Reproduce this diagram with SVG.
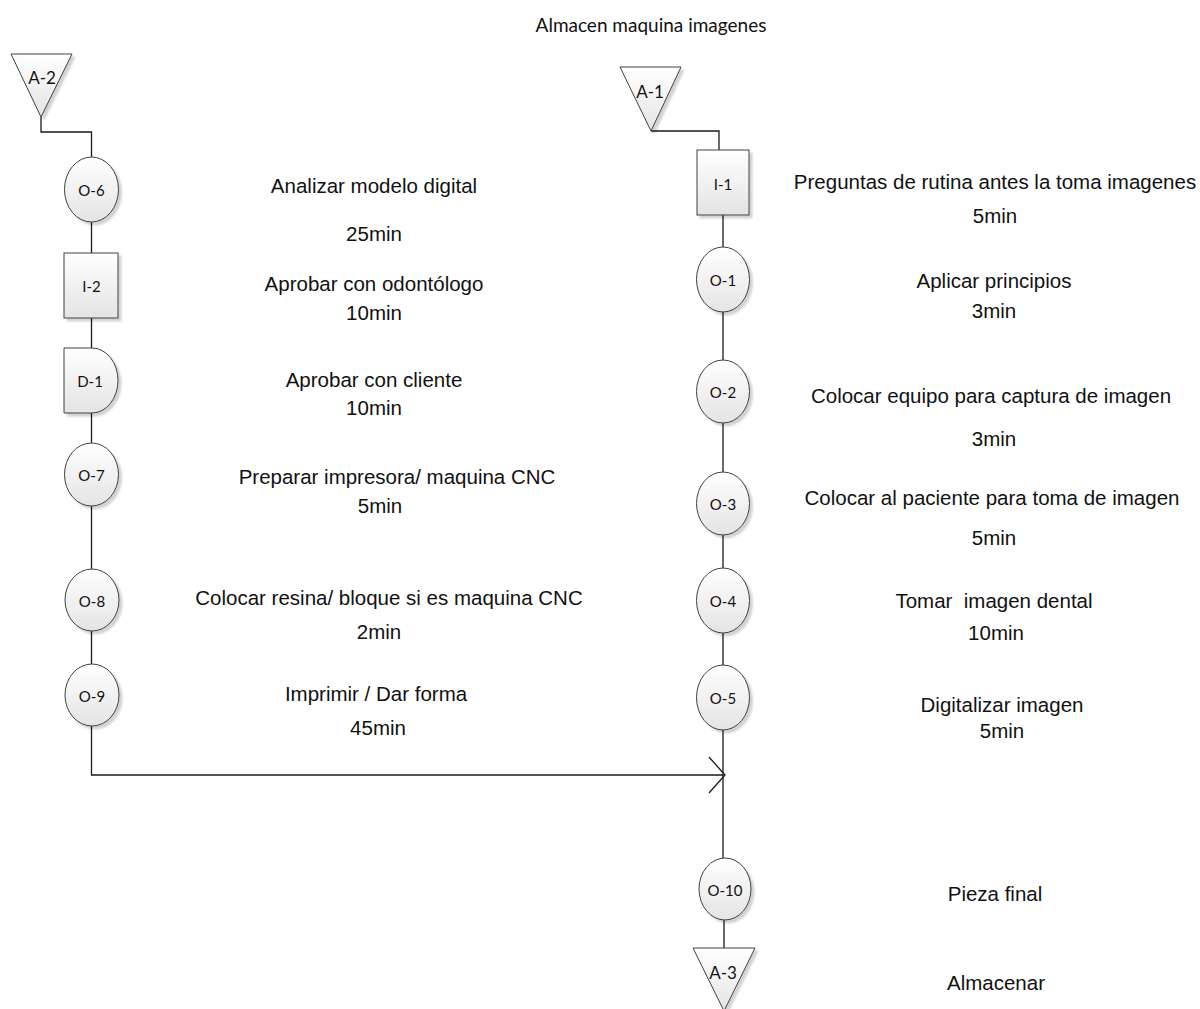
<svg xmlns="http://www.w3.org/2000/svg" width="1200" height="1009" viewBox="0 0 1200 1009">
  <style>
    .shape { fill: url(#fillGrad); stroke: #404040; stroke-width: 1; filter: url(#shadow); }
    .tag { font-family: Lato, "Open Sans", sans-serif; font-size: 15px; fill: #111; text-anchor: middle; dominant-baseline: central; }
    .tag-big { font-size: 17px; }
    .desc { font-family: "Liberation Sans", Arial, sans-serif; font-size: 20.5px; fill: #111; text-anchor: middle; }
    .title { font-family: Lato, "Open Sans", sans-serif; font-size: 19px; fill: #111; text-anchor: middle; }
    .wire { fill: none; stroke: #1a1a1a; stroke-width: 1.3; }
  </style>
  <defs>
    <linearGradient id="fillGrad" x1="0" y1="0" x2="0" y2="1">
      <stop offset="0" stop-color="#ffffff"/>
      <stop offset="1" stop-color="#e4e4e4"/>
    </linearGradient>
    <filter id="shadow" x="-20%" y="-20%" width="150%" height="150%">
      <feGaussianBlur in="SourceAlpha" stdDeviation="1.2"/>
      <feOffset dx="2.5" dy="2.5" result="off"/>
      <feComponentTransfer><feFuncA type="linear" slope="0.18"/></feComponentTransfer>
      <feMerge><feMergeNode/><feMergeNode in="SourceGraphic"/></feMerge>
    </filter>
  </defs>

  <rect width="1200" height="1009" fill="#ffffff"/>

  <text class="title" x="651" y="32">Almacen maquina imagenes</text>

  <!-- connectors -->
  <g id="connectors">
    <polyline class="wire" points="41,117 41,132 91.5,132 91.5,157"/>
    <line class="wire" x1="91.5" y1="222" x2="91.5" y2="253"/>
    <line class="wire" x1="91.5" y1="318" x2="91.5" y2="348"/>
    <line class="wire" x1="91.5" y1="413" x2="91.5" y2="443"/>
    <line class="wire" x1="91.5" y1="506" x2="91.5" y2="569"/>
    <line class="wire" x1="91.5" y1="631" x2="91.5" y2="664"/>
    <polyline class="wire" points="91.5,726 91.5,775 723,775"/>
    <polyline class="wire" points="709,757 725,775 709,793"/>

    <polyline class="wire" points="651,131 719,131 719,150"/>
    <line class="wire" x1="723" y1="215" x2="723" y2="247"/>
    <line class="wire" x1="723" y1="312" x2="723" y2="360"/>
    <line class="wire" x1="723" y1="423" x2="723" y2="472"/>
    <line class="wire" x1="723" y1="535" x2="723" y2="568"/>
    <line class="wire" x1="723" y1="633" x2="723" y2="665"/>
    <line class="wire" x1="723" y1="730" x2="723" y2="858"/>
    <line class="wire" x1="724" y1="920" x2="724" y2="948"/>
  </g>

  <!-- left column -->
  <g id="A-2">
    <polygon class="shape" points="11,54 72,54 41,117"/>
    <text class="tag tag-big" x="42" y="77">A-2</text>
  </g>
  <g id="O-6">
    <ellipse class="shape" cx="91.5" cy="189.5" rx="27" ry="32.5"/>
    <text class="tag" x="91.5" y="190">O-6</text>
  </g>
  <g id="I-2">
    <rect class="shape" x="64" y="253" width="54" height="65"/>
    <text class="tag" x="91.5" y="286">I-2</text>
  </g>
  <g id="D-1">
    <path class="shape" d="M64,348 L92,348 A26,32.5 0 0 1 92,413 L64,413 Z"/>
    <text class="tag" x="90" y="381">D-1</text>
  </g>
  <g id="O-7">
    <ellipse class="shape" cx="91.5" cy="474.5" rx="27" ry="31.5"/>
    <text class="tag" x="91.5" y="475">O-7</text>
  </g>
  <g id="O-8">
    <ellipse class="shape" cx="92" cy="600" rx="27" ry="31"/>
    <text class="tag" x="92" y="601">O-8</text>
  </g>
  <g id="O-9">
    <ellipse class="shape" cx="92" cy="695" rx="27" ry="31"/>
    <text class="tag" x="92" y="696">O-9</text>
  </g>

  <!-- right column -->
  <g id="A-1">
    <polygon class="shape" points="620,67 681,67 651,131"/>
    <text class="tag tag-big" x="650" y="91">A-1</text>
  </g>
  <g id="I-1">
    <rect class="shape" x="697" y="150" width="52" height="65"/>
    <text class="tag" x="723" y="184">I-1</text>
  </g>
  <g id="O-1">
    <ellipse class="shape" cx="723" cy="279.5" rx="26.5" ry="32.5"/>
    <text class="tag" x="723" y="280">O-1</text>
  </g>
  <g id="O-2">
    <ellipse class="shape" cx="723" cy="391.5" rx="26.5" ry="31.5"/>
    <text class="tag" x="723" y="392">O-2</text>
  </g>
  <g id="O-3">
    <ellipse class="shape" cx="723" cy="503.5" rx="26.5" ry="31.5"/>
    <text class="tag" x="723" y="504">O-3</text>
  </g>
  <g id="O-4">
    <ellipse class="shape" cx="723" cy="600.5" rx="26.5" ry="32.5"/>
    <text class="tag" x="723" y="601">O-4</text>
  </g>
  <g id="O-5">
    <ellipse class="shape" cx="723" cy="697.5" rx="26.5" ry="32.5"/>
    <text class="tag" x="723" y="698">O-5</text>
  </g>
  <g id="O-10">
    <ellipse class="shape" cx="725" cy="889" rx="26" ry="31"/>
    <text class="tag" x="725" y="890">O-10</text>
  </g>
  <g id="A-3">
    <polygon class="shape" points="693,948 755,948 724,1011"/>
    <text class="tag tag-big" x="723" y="972">A-3</text>
  </g>

  <!-- descriptions, left column -->
  <g id="labels-left">
    <text class="desc" x="374" y="193">Analizar modelo digital</text>
    <text class="desc" x="374" y="241">25min</text>
    <text class="desc" x="374" y="291">Aprobar con odontólogo</text>
    <text class="desc" x="374" y="320">10min</text>
    <text class="desc" x="374" y="387">Aprobar con cliente</text>
    <text class="desc" x="374" y="415">10min</text>
    <text class="desc" x="397" y="484">Preparar impresora/ maquina CNC</text>
    <text class="desc" x="380" y="513">5min</text>
    <text class="desc" x="389" y="605">Colocar resina/ bloque si es maquina CNC</text>
    <text class="desc" x="379" y="639">2min</text>
    <text class="desc" x="376" y="701">Imprimir / Dar forma</text>
    <text class="desc" x="378" y="735">45min</text>
  </g>

  <!-- descriptions, right column -->
  <g id="labels-right">
    <text class="desc" x="995" y="189">Preguntas de rutina antes la toma imagenes</text>
    <text class="desc" x="995" y="223">5min</text>
    <text class="desc" x="994" y="288">Aplicar principios</text>
    <text class="desc" x="994" y="318">3min</text>
    <text class="desc" x="991" y="403">Colocar equipo para captura de imagen</text>
    <text class="desc" x="994" y="446">3min</text>
    <text class="desc" x="992" y="505">Colocar al paciente para toma de imagen</text>
    <text class="desc" x="994" y="545">5min</text>
    <text class="desc" x="994" y="608" xml:space="preserve">Tomar  imagen dental</text>
    <text class="desc" x="996" y="640">10min</text>
    <text class="desc" x="1002" y="712">Digitalizar imagen</text>
    <text class="desc" x="1002" y="738">5min</text>
    <text class="desc" x="995" y="901">Pieza final</text>
    <text class="desc" x="996" y="990">Almacenar</text>
  </g>
</svg>
